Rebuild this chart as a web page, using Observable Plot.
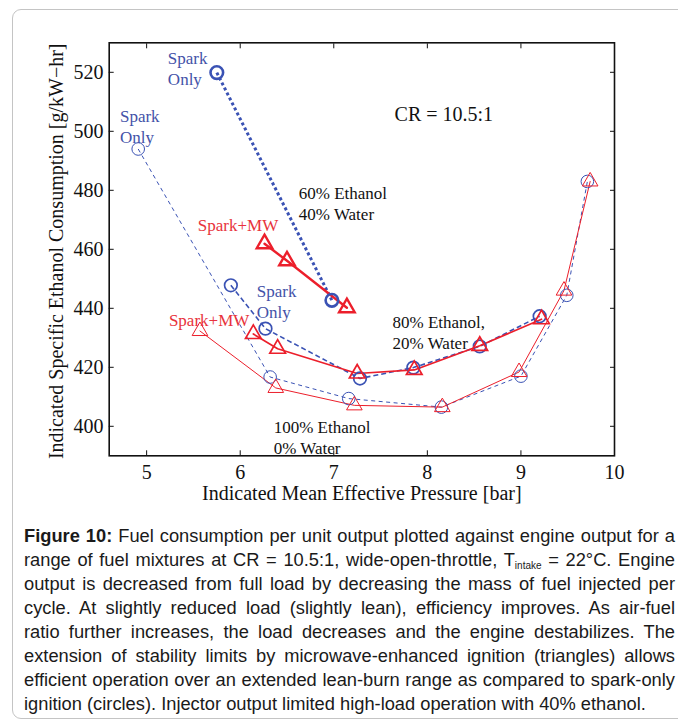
<!DOCTYPE html>
<html>
<head>
<meta charset="utf-8">
<script src="https://cdn.jsdelivr.net/npm/d3@7"></script>
<script src="https://cdn.jsdelivr.net/npm/@observablehq/plot@0.6"></script>
<style>
  html, body { margin: 0; padding: 0; background: #fff; overflow: hidden; }
  #page { position: relative; width: 678px; height: 722px; overflow: hidden; background: #fff; }
  #frame {
    position: absolute; left: 12px; top: 9px; width: 720px; height: 710px;
    border: 1.5px solid #c4c4c4; border-radius: 9px; box-sizing: border-box;
  }
  #chart { position: absolute; left: 0; top: 0; }
  #caption {
    position: absolute; left: 24px; top: 524px; width: 651px;
    font-family: "Liberation Sans", Arial, sans-serif; font-size: 18.3px;
    line-height: 24px; color: #1a1a1a;
  }
  #caption div { text-align: justify; text-align-last: justify; white-space: nowrap; }
  #caption div.last { text-align-last: left; }
  #caption sub { font-size: 10px; vertical-align: -3px; line-height: 0; }
</style>
</head>
<body>
<div id="page">
<div id="frame"></div>
<div id="chart"></div>
<div id="caption">
  <div><b>Figure 10:</b> Fuel consumption per unit output plotted against engine output for a</div>
  <div>range of fuel mixtures at CR = 10.5:1, wide-open-throttle, T<sub>intake</sub> = 22°C. Engine</div>
  <div>output is decreased from full load by decreasing the mass of fuel injected per</div>
  <div>cycle. At slightly reduced load (slightly lean), efficiency improves. As air-fuel</div>
  <div>ratio further increases, the load decreases and the engine destabilizes. The</div>
  <div>extension of stability limits by microwave-enhanced ignition (triangles) allows</div>
  <div>efficient operation over an extended lean-burn range as compared to spark-only</div>
  <div class="last">ignition (circles). Injector output limited high-load operation with 40% ethanol.</div>
</div>
</div>
<script>
// Axis ticks
const xTicks = [5, 6, 7, 8, 9, 10];
const yTicks = [400, 420, 440, 460, 480, 500, 520];

// IMEP [bar] and ISEC [g/kW-hr] per fuel mixture and ignition mode
const imep100Spark = [4.91, 6.32, 7.16, 8.15, 9.00, 9.49, 9.71];
const isec100Spark = [494.0, 416.7, 409.4, 406.5, 417.0, 444.4, 483.0];
const imep100MW    = [5.57, 6.38, 7.22, 8.16, 8.98, 9.46, 9.74];
const isec100MW    = [432.3, 413.0, 407.1, 406.5, 418.4, 446.0, 483.0];

const imep80Spark = [5.90, 6.27, 7.28, 7.85, 8.56, 9.20];
const isec80Spark = [447.8, 433.1, 416.2, 419.9, 427.1, 437.3];
const imep80MW    = [6.14, 6.40, 7.25, 7.86, 8.56, 9.22];
const isec80MW    = [431.3, 426.3, 417.9, 419.1, 427.3, 436.3];

const imep60Spark = [5.75, 6.98];
const isec60Spark = [519.9, 442.7];
const imep60MW    = [6.26, 6.50, 7.14];
const isec60MW    = [461.9, 456.1, 440.2];

// In-plot annotations
const noteText  = ["Spark\nOnly", "Spark\nOnly", "Spark+MW", "60% Ethanol\n40% Water",
                   "Spark\nOnly", "Spark+MW", "80% Ethanol,\n20% Water", "100% Ethanol\n0% Water"];
const noteX     = [5.227, 4.715, 5.547, 6.626, 6.177, 5.238, 7.628, 6.358];
const noteY     = [521.5, 501.9, 468.5, 475.8, 442.5, 436.3, 432.0, 396.4];
const noteKind  = ["spark", "spark", "mw", "mix", "spark", "mw", "mix", "mix"];
const ratioText = "CR = 10.5:1";
const ratioX = 7.65, ratioY = 505.8;

const BLUE = "#3a52b4";
const BLUE_TEXT = "#4452a8";
const RED = "#ec1f2b";
const RED_TEXT = "#e8333c";
const kindColor = {spark: BLUE_TEXT, mw: RED_TEXT, mix: "#111"};

const rows = (xs, ys) => xs.map((x, i) => ({x, y: ys[i]}));
const s100 = rows(imep100Spark, isec100Spark);
const m100 = rows(imep100MW, isec100MW);
const s80 = rows(imep80Spark, isec80Spark);
const m80 = rows(imep80MW, isec80MW);
const s60 = rows(imep60Spark, isec60Spark);
const m60 = rows(imep60MW, isec60MW);
const notes = noteText.map((t, i) => ({text: t, x: noteX[i], y: noteY[i], color: kindColor[noteKind[i]]}));

const chart = Plot.plot({
  width: 678,
  height: 510,
  marginLeft: 108.7,
  marginRight: 64,
  marginTop: 42.3,
  marginBottom: 54.7,
  x: {domain: [4.6, 10]},
  y: {domain: [390, 530]},
  style: {fontFamily: "'Liberation Serif', 'Times New Roman', serif", fontSize: "20px", color: "#111", background: "transparent"},
  marks: [
    // 100% ethanol
    Plot.line(s100, {x: "x", y: "y", stroke: BLUE, strokeWidth: 1, strokeDasharray: "4,3.5", strokeLinecap: "butt"}),
    Plot.line(m100, {x: "x", y: "y", stroke: RED, strokeWidth: 1}),
    Plot.dot(s100, {x: "x", y: "y", r: 6.3, stroke: BLUE, strokeWidth: 1, fill: "none"}),
    Plot.dot(m100, {x: "x", y: "y", r: 5.8, symbol: "triangle", stroke: RED, strokeWidth: 1, fill: "none"}),
    // 80% ethanol
    Plot.line(s80, {x: "x", y: "y", stroke: BLUE, strokeWidth: 1.6, strokeDasharray: "5,3", strokeLinecap: "butt"}),
    Plot.line(m80, {x: "x", y: "y", stroke: RED, strokeWidth: 1.7}),
    Plot.dot(s80, {x: "x", y: "y", r: 6.3, stroke: BLUE, strokeWidth: 1.7, fill: "none"}),
    Plot.dot(m80, {x: "x", y: "y", r: 5.8, symbol: "triangle", stroke: RED, strokeWidth: 1.7, fill: "none"}),
    // 60% ethanol
    Plot.line(s60, {x: "x", y: "y", stroke: BLUE, strokeWidth: 3, strokeDasharray: "3,2.6", strokeLinecap: "butt"}),
    Plot.line(m60, {x: "x", y: "y", stroke: RED, strokeWidth: 2.4}),
    Plot.dot(s60, {x: "x", y: "y", r: 6.3, stroke: BLUE, strokeWidth: 2.6, fill: "none"}),
    Plot.dot(m60, {x: "x", y: "y", r: 5.8, symbol: "triangle", stroke: RED, strokeWidth: 2.4, fill: "none"}),
    // annotations
    Plot.text(notes, {x: "x", y: "y", text: "text", fill: "color", textAnchor: "start", lineAnchor: "middle", fontSize: 17, lineHeight: 1.23}),
    Plot.text([ratioText], {x: () => ratioX, y: () => ratioY, text: d => d, textAnchor: "start", lineAnchor: "middle", fontSize: 20, fill: "#111"}),
    // axes with inward ticks on all four sides
    Plot.axisX({ticks: xTicks, anchor: "bottom", tickSize: -5, tickPadding: 14, tickFormat: d => String(d), label: null, fontSize: 20}),
    Plot.axisX({ticks: xTicks, anchor: "top", tickSize: -5, tickFormat: () => "", label: null}),
    Plot.axisY({ticks: yTicks, anchor: "left", tickSize: -5, tickPadding: 10.7, tickFormat: d => String(d), label: null, fontSize: 20}),
    Plot.axisY({ticks: yTicks, anchor: "right", tickSize: -5, tickFormat: () => "", label: null}),
    Plot.frame({stroke: "#111", strokeWidth: 1.6}),
    // axis titles
    Plot.text(["Indicated Mean Effective Pressure [bar]"], {frameAnchor: "bottom", dy: 37.7, text: d => d, fontSize: 20, lineAnchor: "middle", fill: "#111"}),
    Plot.text(["Indicated Specific Ethanol Consumption [g/kW\u2212hr]"], {frameAnchor: "left", dx: -52.7, dy: 2, rotate: -90, text: d => d, fontSize: 20, textAnchor: "middle", lineAnchor: "middle", fill: "#111"})
  ]
});
document.getElementById("chart").append(chart);
</script>
</body>
</html>
